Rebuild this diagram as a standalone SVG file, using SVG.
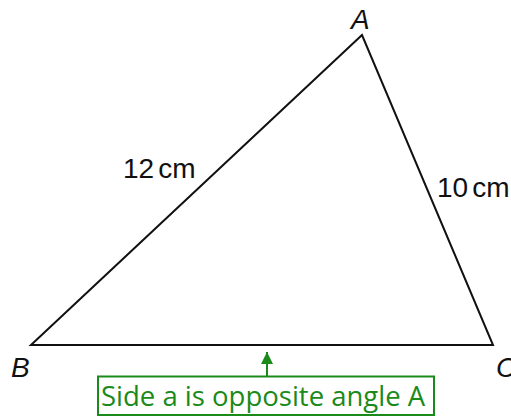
<svg xmlns="http://www.w3.org/2000/svg" width="511" height="417" viewBox="0 0 511 417">
<defs>
<style>
.lbl{font-family:"Liberation Sans",Arial,sans-serif;font-size:28px;fill:#111}
.vtx{font-style:italic}
.note{font-family:"Open Sans","Noto Sans",sans-serif;font-size:27.5px;fill:#1a8a1a}
</style>
<marker id="ah" viewBox="0 0 10 10" refX="10" refY="5" markerWidth="12" markerHeight="13" markerUnits="userSpaceOnUse" orient="auto">
<path d="M0,0 L10,5 L0,10 Z" fill="#1a8a1a"/>
</marker>
</defs>
<rect width="511" height="417" fill="#fff"/>
<g id="triangle">
<polygon points="31,345 362,35 493,345" fill="none" stroke="#111" stroke-width="2" stroke-linejoin="miter"/>
</g>
<g id="labels">
<text class="lbl vtx" x="351" y="29">A</text>
<text class="lbl vtx" x="11" y="377">B</text>
<text class="lbl vtx" x="496" y="377">C</text>
<text class="lbl" x="123" y="178">12<tspan dx="4">cm</tspan></text>
<text class="lbl" x="437" y="197">10<tspan dx="4">cm</tspan></text>
</g>
<g id="connectors">
<line x1="267" y1="376" x2="267" y2="352" stroke="#1a8a1a" stroke-width="2" marker-end="url(#ah)"/>
</g>
<g id="note">
<rect x="98" y="376.5" width="336" height="38.5" fill="#fff" stroke="#1a8a1a" stroke-width="2"/>
<text class="note" x="101" y="406">Side a is opposite angle A</text>
</g>
</svg>
